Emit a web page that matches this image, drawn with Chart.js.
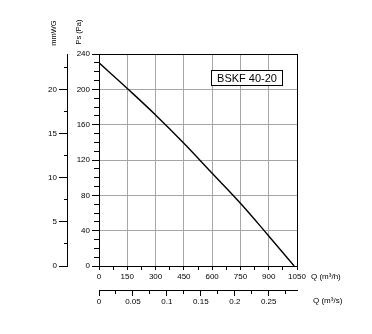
<!DOCTYPE html>
<html>
<head>
<meta charset="utf-8">
<script src="https://cdn.jsdelivr.net/npm/chart.js@4/dist/chart.umd.min.js"></script>
<style>
  html, body { margin: 0; padding: 0; background: #fff; }
  #wrap { width: 372px; height: 334px; }
</style>
</head>
<body>
<div id="wrap"><canvas id="myChart" width="372" height="334"></canvas></div>
<script>
// fan curve
const flowM3h = [0, 150, 300, 450, 600, 750, 900, 1035]
const pressurePa = [230, 201, 171, 139, 105, 71, 34, 0]

const modelName = 'BSKF 40-20'
const flowM3sLabels = ['0', '0.05', '0.1', '0.15', '0.2', '0.25']
const mmwgLabels = ['0', '5', '10', '15', '20']

const FONT = 'Liberation Sans'
const gridGray = '#a6a6a6'

// draws the loose texts: axis names and the model box
const extraText = {
    id: 'extraText',
    afterDraw(chart) {
        const ctx = chart.ctx
        const area = chart.chartArea
        const s = chart.scales
        ctx.save()
        ctx.fillStyle = '#000'
        ctx.font = `7.5px "${FONT}"`
        ctx.textAlign = 'center'
        ctx.textBaseline = 'middle'

        // rotated titles on top of the left axes
        ctx.save()
        ctx.translate(s.mm.right - 13, 33)
        ctx.rotate(-Math.PI / 2)
        ctx.fillText('mmWG', 0, 0)
        ctx.restore()

        ctx.save()
        ctx.translate(s.y.right - 20, 32)
        ctx.rotate(-Math.PI / 2)
        ctx.fillText('Ps (Pa)', 0, 0)
        ctx.restore()

        ctx.font = `8px "${FONT}"`
        ctx.textAlign = 'left'
        ctx.fillText('Q (m³/h)', area.right + 14, s.x.top + 11)
        ctx.fillText('Q (m³/s)', area.right + 16, s.x2.top + 11)

        // model name box
        const bx = Math.round(s.x.getPixelForValue(595))
        const by = Math.round(s.y.getPixelForValue(222))
        const bw = 71, bh = 15
        ctx.fillStyle = '#fff'
        ctx.fillRect(bx, by, bw, bh)
        ctx.strokeStyle = '#000'
        ctx.lineWidth = 1
        ctx.strokeRect(bx + 0.5, by + 0.5, bw, bh)
        ctx.fillStyle = '#000'
        ctx.font = `11px "${FONT}"`
        ctx.textAlign = 'center'
        ctx.fillText(modelName, bx + bw / 2 + 0.5, by + bh / 2 + 1)
        ctx.restore()
    }
}

const tickFont = { family: FONT, size: 8 }

const config = {
    type: 'line',
    data: {
        datasets: [{
            label: modelName,
            data: flowM3h.map((q, i) => ({ x: q, y: pressurePa[i] })),
            borderColor: '#000',
            borderWidth: 1.4,
            pointRadius: 0,
            tension: 0.4,
            xAxisID: 'x',
            yAxisID: 'y'
        }]
    },
    plugins: [extraText],
    options: {
        responsive: false,
        animation: false,
        layout: {
            padding: { top: 54, right: 75, bottom: 28, left: 10 }
        },
        plugins: {
            legend: { display: false },
            tooltip: { enabled: false }
        },
        scales: {
            x: {
                type: 'linear',
                position: 'bottom',
                weight: 0,
                min: 0,
                max: 1050,
                border: { color: '#000', width: 1 },
                grid: {
                    color: c => c.tick.value === 1050 ? '#000' : (c.tick.value % 150 === 0 ? gridGray : 'rgba(0,0,0,0)'),
                    tickColor: '#000',
                    tickLength: 4
                },
                ticks: {
                    stepSize: 75,
                    autoSkip: false,
                    maxRotation: 0,
                    padding: 2,
                    color: '#000',
                    font: tickFont,
                    callback: v => v % 150 === 0 ? v : ''
                },
                afterFit: scale => { scale.height = 24 }
            },
            x2: {
                type: 'linear',
                position: 'bottom',
                weight: 1,
                min: 0,
                max: 1050 / 3600,
                border: { color: '#000', width: 1 },
                grid: {
                    drawOnChartArea: false,
                    tickColor: '#000',
                    tickLength: 6,
                    tickBorderDash: c => c.index % 2 === 0 ? [] : [3, 10]
                },
                ticks: {
                    stepSize: 0.025,
                    includeBounds: false,
                    autoSkip: false,
                    maxRotation: 0,
                    padding: 1,
                    color: '#000',
                    font: tickFont,
                    callback: (v, i) => i % 2 === 0 ? flowM3sLabels[i / 2] : ''
                },
                afterFit: scale => { scale.height = 16 }
            },
            y: {
                type: 'linear',
                position: 'left',
                weight: 0,
                min: 0,
                max: 240,
                border: { color: '#000', width: 1 },
                grid: {
                    color: c => c.tick.value === 240 ? '#000' : (c.tick.value % 40 === 0 ? gridGray : 'rgba(0,0,0,0)'),
                    tickColor: '#000',
                    tickLength: 7,
                    tickBorderDash: c => c.tick.value % 40 === 0 ? [] : [0, 2, 5]
                },
                ticks: {
                    stepSize: 10,
                    autoSkip: false,
                    padding: 2,
                    color: '#000',
                    font: tickFont,
                    callback: v => v % 40 === 0 ? v : ''
                },
                afterFit: scale => { scale.width = 32 }
            },
            mm: {
                type: 'linear',
                position: 'left',
                weight: 1,
                min: 0,
                max: 24,
                border: { color: '#000', width: 1 },
                grid: {
                    drawOnChartArea: false,
                    tickColor: '#000',
                    tickLength: 8,
                    tickBorderDash: c => c.index % 2 === 0 ? [] : [0, 5, 3]
                },
                ticks: {
                    stepSize: 2.5,
                    includeBounds: false,
                    autoSkip: false,
                    padding: 2,
                    color: '#000',
                    font: tickFont,
                    callback: (v, i) => i % 2 === 0 ? mmwgLabels[i / 2] : ''
                },
                afterFit: scale => { scale.width = 57 }
            }
        }
    }
}

const canvas = document.getElementById('myChart')
const myChart = new Chart(canvas, config)
</script>
</body>
</html>
